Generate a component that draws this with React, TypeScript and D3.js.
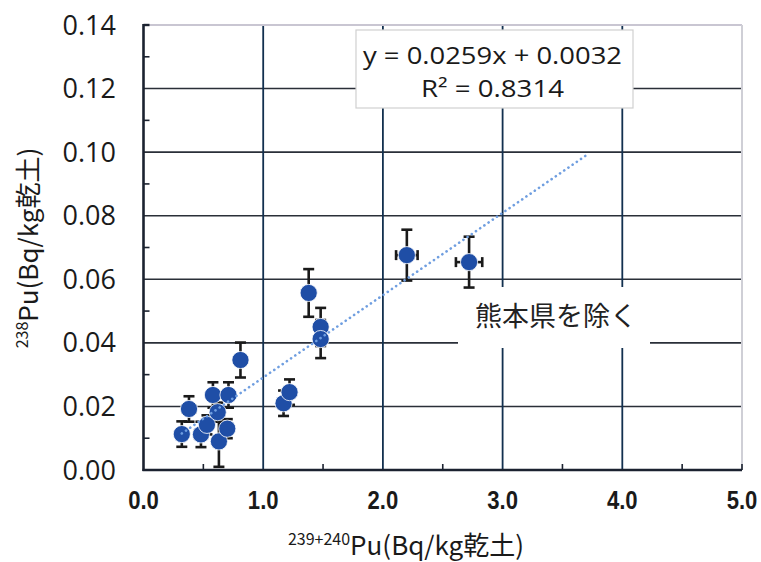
import React from "react";
import * as d3 from "d3";

const xTickLabels = ["0.0", "1.0", "2.0", "3.0", "4.0", "5.0"];
const yTickLabels = ["0.00", "0.02", "0.04", "0.06", "0.08", "0.10", "0.12", "0.14"];

const xs = [0.32, 0.38, 0.48, 0.53, 0.58, 0.62, 0.63, 0.70, 0.71, 0.81, 1.17, 1.22, 1.38, 1.48, 1.48, 2.20, 2.72];
const ys = [0.0113, 0.0192, 0.0112, 0.0142, 0.0236, 0.0182, 0.0090, 0.0130, 0.0236, 0.0346, 0.0210, 0.0245, 0.0557, 0.0450, 0.0412, 0.0676, 0.0654];
const yErr = [0.004, 0.004, 0.004, 0.003, 0.004, 0.003, 0.008, 0.003, 0.004, 0.0055, 0.004, 0.004, 0.0075, 0.006, 0.006, 0.008, 0.008];
const xErr = [0.04, 0.05, 0.05, 0.04, 0.03, 0.04, 0.03, 0.03, 0.03, 0.03, 0.03, 0.03, 0.02, 0.03, 0.03, 0.09, 0.11];

const slope = 0.0259;
const intercept = 0.0032;
const trendStart = 0.32;
const trendEnd = 3.7;
const equationText = "y = 0.0259x + 0.0032";
const r2Value = "0.8314";
const noteText = "熊本県を除く";

export default function App() {
  const W = 761, H = 562;
  const x = d3.scaleLinear().domain([0, 5]).range([143.5, 742]);
  const y = d3.scaleLinear().domain([0, 0.14]).range([470, 25]);
  const gridY = d3.range(1, 7).map((i) => i * 0.02);
  const gridX = [1, 2, 3, 4];
  const minorY = d3.range(0, 14).map((i) => i * 0.01 + 0.01).filter((v, i) => i % 2 === 0);
  const minorX = [0.5, 1.5, 2.5, 3.5, 4.5];
  const line = d3.line<number>().x((d) => x(d)).y((d) => y(slope * d + intercept));
  const dark = "#1b2230";
  return (
    <svg width={W} height={H} style={{ position: "absolute", left: 0, top: 0, background: "#fff" }}>
      {gridY.map((v) => (
        <line key={"gy" + v} x1={x(0)} x2={x(5)} y1={y(v)} y2={y(v)} stroke="#2a2f38" strokeWidth={1.6} />
      ))}
      {gridX.map((v) => (
        <line key={"gx" + v} x1={x(v)} x2={x(v)} y1={y(0)} y2={y(0.14)} stroke="#12304f" strokeWidth={1.8} />
      ))}
      <line x1={x(0)} x2={x(5)} y1={y(0.14)} y2={y(0.14)} stroke="#c9c6d2" strokeWidth={2} />
      <line x1={x(5)} x2={x(5)} y1={y(0.14)} y2={y(0)} stroke="#cfcfd6" strokeWidth={2} />
      {minorY.map((v) => (
        <line key={"my" + v} x1={x(0)} x2={x(0) + 6} y1={y(v)} y2={y(v)} stroke={dark} strokeWidth={1.6} />
      ))}
      {minorX.map((v) => (
        <line key={"mx" + v} x1={x(v)} x2={x(v)} y1={y(0)} y2={y(0) - 6} stroke={dark} strokeWidth={1.6} />
      ))}
      <line x1={x(0)} x2={x(0)} y1={y(0.14) - 1} y2={y(0) + 1} stroke={dark} strokeWidth={2.6} />
      <line x1={x(0) - 1} x2={x(5)} y1={y(0)} y2={y(0)} stroke={dark} strokeWidth={2.6} />
      <line x1={x(5)} x2={x(5)} y1={y(0)} y2={y(0) - 6} stroke={dark} strokeWidth={1.6} />
      <line x1={x(0)} x2={x(0) + 6} y1={y(0.14)} y2={y(0.14)} stroke={dark} strokeWidth={2.4} />

      <rect x={458} y={287} width={192} height={61} fill="#fff" />
      <text x={556} y={326} textAnchor="middle" fontSize={27} fill="#222" fontFamily="'Noto Sans CJK JP', sans-serif">
        {noteText}
      </text>

      {xs.map((xv, i) => {
        const cx = x(xv), cy = y(ys[i]);
        const t = y(ys[i] + yErr[i]), b = y(ys[i] - yErr[i]);
        const l = x(xv - xErr[i]), r = x(xv + xErr[i]);
        return (
          <g key={"e" + i} stroke="#1a1a1a" strokeWidth={2.6}>
            <line x1={cx} x2={cx} y1={t} y2={b} />
            <line x1={cx - 5.5} x2={cx + 5.5} y1={t} y2={t} />
            <line x1={cx - 5.5} x2={cx + 5.5} y1={b} y2={b} />
            <line x1={l} x2={r} y1={cy} y2={cy} />
            <line x1={l} x2={l} y1={cy - 5} y2={cy + 5} />
            <line x1={r} x2={r} y1={cy - 5} y2={cy + 5} />
          </g>
        );
      })}
      {xs.map((xv, i) => (
        <circle key={"p" + i} cx={x(xv)} cy={y(ys[i])} r={8.6} fill="#1f4ea6" stroke="#ffffff" strokeWidth={0.8} />
      ))}
      <path d={line([trendStart, trendEnd]) || ""} fill="none" stroke="#6f9ee0" strokeWidth={2.6} strokeDasharray="0.1 5" strokeLinecap="round" />

      <rect x={356} y={30} width={277} height={78} fill="#fff" stroke="#d0d0d0" strokeWidth={1.2} />
      <text x={363} y={64} fontSize={24} fill="#1a1a1a" fontFamily="'Open Sans', sans-serif" textLength={259} lengthAdjust="spacingAndGlyphs">
        {equationText}
      </text>
      <text x={421} y={97} fontSize={24} fill="#1a1a1a" fontFamily="'Open Sans', sans-serif" textLength={143} lengthAdjust="spacingAndGlyphs">
        R² = {r2Value}
      </text>

      {yTickLabels.map((s) => (
        <text key={"yl" + s} x={116} y={y(+s) + 9.5} textAnchor="end" fontSize={27} fill="#1a1a1a" fontFamily="'Open Sans', sans-serif">
          {s}
        </text>
      ))}
      {xTickLabels.map((s) => (
        <text key={"xl" + s} transform={`translate(${x(+s)},509) scale(0.85,1)`} textAnchor="middle" fontSize={26} fontWeight="bold" fill="#1a1a1a" fontFamily="'Liberation Sans', sans-serif">
          {s}
        </text>
      ))}
      <text x={406} y={555} textAnchor="middle" fill="#1a1a1a" fontFamily="'Noto Sans CJK JP', sans-serif" fontSize={26}>
        <tspan fontSize={16} dy={-10}>239+240</tspan>
        <tspan dy={10}>Pu(Bq/kg乾土)</tspan>
      </text>
      <text transform="translate(38,248) rotate(-90)" textAnchor="middle" fill="#1a1a1a" fontFamily="'Noto Sans CJK JP', sans-serif" fontSize={26}>
        <tspan fontSize={16} dy={-10}>238</tspan>
        <tspan dy={10}>Pu(Bq/kg乾土)</tspan>
      </text>
    </svg>
  );
}
